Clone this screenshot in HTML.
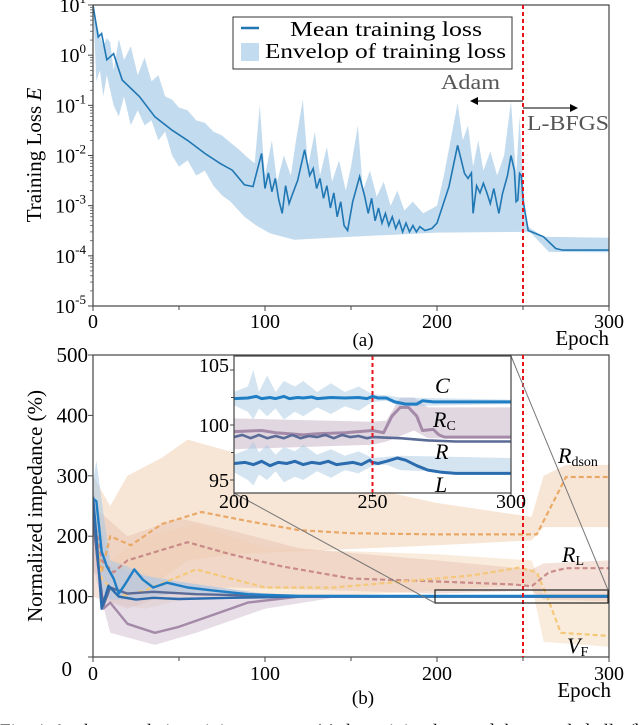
<!DOCTYPE html>
<html><head><meta charset="utf-8"><style>
html,body{margin:0;padding:0;background:#fff;}
svg{display:block;font-family:"Liberation Serif","DejaVu Serif",serif;}
</style></head><body>
<svg id="fig" width="640" height="725" viewBox="0 0 640 725" xmlns="http://www.w3.org/2000/svg">
<defs>
<clipPath id="clipA"><rect x="93" y="5" width="516" height="301"/></clipPath>
<clipPath id="clipB"><rect x="93" y="355" width="516" height="302"/></clipPath>
<clipPath id="clipI"><rect x="234" y="356" width="277" height="137"/></clipPath>
<marker id="arr" markerWidth="8" markerHeight="8" refX="7" refY="4" orient="auto"><path d="M0,0 L8,4 L0,8 z" fill="#000"/></marker>
</defs>
<g id="top"></g>
<g id="bot"></g>
<g id="inset"></g>
<text x="0" y="737" font-size="19">Fig. 4.   As the   sample in training process, (a) the training loss and the sample ballo (b)</text>
</svg>
<script>
// ---------- Panel (a) data ----------
const meanEpochs=[0,3,5,8,12,17,27,36,46,55,65,74,81,88,93,98,100,102,104,106,108,110,112,114,116,119,123,126,128,130,132,134,136,138,140,142,144,146,148,151,155,158,160,162,164,166,168,170,172,174,176,178,180,182,184,186,188,190,193,197,200,207,212,216,218,220,221,223,225,227,229,231,233,235,236,238,241,243,245,246,247,248,249,250,253,262,269,273,300];
const meanLoss=[10,2.3,2.7,0.81,1.07,0.32,0.15,0.059,0.032,0.02,0.011,0.0069,0.0051,0.0026,0.0024,0.011,0.0022,0.0045,0.0019,0.0035,0.0013,0.0007,0.0025,0.0011,0.0017,0.0032,0.013,0.004,0.0055,0.0022,0.0035,0.0014,0.0025,0.0009,0.0018,0.0006,0.0012,0.0004,0.00032,0.0012,0.0038,0.0015,0.0007,0.0014,0.0005,0.0009,0.00045,0.0007,0.0004,0.0006,0.00035,0.0005,0.0003,0.00045,0.0003,0.0004,0.0003,0.00038,0.00032,0.00035,0.00045,0.0024,0.016,0.0044,0.0035,0.0045,0.0007,0.0025,0.0018,0.0028,0.0018,0.0011,0.0022,0.001,0.0007,0.0017,0.004,0.01,0.005,0.0012,0.0013,0.0044,0.004,0.0013,0.00032,0.00024,0.00014,0.00013,0.00013];
const envUpEpochs=[0,3,6,8,10,12,15,18,22,26,30,34,38,42,46,50,55,60,65,70,75,80,85,90,94,97,99,100,104,107,111,115,118,122,125,129,132,136,139,143,147,150,154,157,161,165,169,173,177,181,186,192,200,204,212,215,218,221,224,227,231,235,239,243,246,248,250,252,262,300];
const envUp=[10,3.2,1.5,2.2,1.8,0.5,2.1,0.8,1.5,0.4,0.9,0.3,0.4,0.15,0.13,0.09,0.08,0.05,0.045,0.03,0.025,0.018,0.013,0.009,0.007,0.1,0.01,0.004,0.02,0.003,0.01,0.004,0.02,0.13,0.006,0.03,0.004,0.015,0.003,0.008,0.002,0.006,0.04,0.002,0.005,0.0015,0.003,0.001,0.002,0.0008,0.0012,0.0007,0.001,0.004,0.11,0.02,0.04,0.006,0.02,0.005,0.012,0.004,0.01,0.12,0.004,0.06,0.003,0.0004,0.00024,0.00023];
const envLoEpochs=[0,2,4,6,8,10,12,15,18,22,26,30,34,38,42,46,50,55,60,65,70,75,80,88,95,103,117,150,200,250,254,265,300];
const envLo=[10,0.3,0.5,0.15,0.4,0.2,0.1,0.06,0.15,0.04,0.08,0.04,0.05,0.02,0.03,0.01,0.006,0.008,0.004,0.005,0.0025,0.0016,0.0012,0.0006,0.0004,0.00028,0.00021,0.00024,0.00029,0.0003,0.0003,0.00012,0.000117];
const topYTicks=[1,0,-1,-2,-3,-4,-5];
const xTickLabels=[0,100,200,300];
const xTickMinor=[50,150,250];

// ---------- Panel (b) data ----------
const cE=[0,2,5,8,12,15,19,24,29,35,43,55,70,90,120,300];
const cV=[262,258,175,150,130,105,122,145,128,115,123,115,110,104,101,101];
const lE=[0,2,5,9,15,25,35,50,80,120,300];
const lV=[265,200,80,118,100,95,98,96,98,100,100];
const rE=[0,3,6,10,20,35,60,90,120,300];
const rV=[230,150,85,115,105,108,104,102,100,100];
const rcE=[0,3,6,10,20,36,50,70,90,120,300];
const rcV=[240,150,80,90,55,40,50,70,90,100,100];
const rdE=[0,5,10,22,40,63,90,120,150,200,258,275,300];
const rdV=[230,140,200,185,220,240,225,210,205,203,203,298,298];
const rlE=[0,5,12,20,55,80,110,150,200,245,255,265,275,300];
const rlV=[240,160,140,160,190,170,150,130,125,120,117,140,147,147];
const vfE=[0,5,15,30,60,80,100,140,180,220,248,258,264,272,300];
const vfV=[240,130,100,110,145,130,115,115,125,135,148,140,100,40,35];
const rdBandE=[0,10,20,40,55,80,120,160,200,255,262,275,300];
const rdBandUp=[300,250,300,330,360,340,310,280,255,232,300,318,318];
const rdBandLo=[140,120,100,130,160,170,175,180,185,193,215,215,215];
const rlBandE=[0,20,50,80,120,200,255,262,300];
const rlBandUp=[250,200,230,210,180,160,145,155,160];
const rlBandLo=[100,80,110,115,112,105,110,95,92];
const vfBandE=[0,10,30,60,100,200,255,262,300];
const vfBandUp=[250,160,200,220,180,170,160,105,105];
const vfBandLo=[200,90,80,100,95,110,120,25,17];
const rcBandE=[0,10,36,60,100,140,300];
const rcBandUp=[280,150,130,120,105,102,102];
const rcBandLo=[150,40,20,40,80,98,98];
const cBandE=[0,2,5,10,20,30,50,100,300];
const cBandUp=[290,325,260,160,150,135,125,104,101];
const cBandLo=[220,200,110,95,95,100,105,99,99];
const botYTicks=[0,100,200,300,400,500];

// ---------- Inset data ----------
const icE=[200,205,208,210,213,215,218,220,223,225,228,230,235,240,245,248,250,252,255,258,262,266,268,272,300];
const icV=[102.4,102.45,102.6,102.4,102.5,102.4,102.6,102.4,102.5,102.45,102.55,102.4,102.5,102.45,102.5,102.4,102.6,102.45,102.45,102.1,101.9,101.9,102.2,102.1,102.1];
const ircE=[200,210,215,220,225,230,240,245,250,254,257,260,263,266,268,272,274,276,300];
const ircV=[99.4,99.5,99.3,99.2,99.1,99.2,99.3,99.4,99.5,99.3,100.8,101.6,101.6,100.8,99.5,99.6,99.1,98.9,98.9];
const irE=[200,203,206,209,212,215,218,221,224,227,230,233,236,239,242,245,248,250,260,270,280,300];
const irV=[98.9,99.1,98.8,99.1,98.8,99.0,98.8,99.1,98.8,99.0,98.9,99.1,98.8,99.1,98.9,99.0,98.8,98.9,98.8,98.6,98.5,98.5];
const ilE=[200,204,207,210,213,216,219,222,225,228,231,234,237,240,243,246,249,250,252,255,259,262,266,270,275,280,300];
const ilV=[96.5,96.6,96.4,96.7,96.3,96.6,96.5,96.7,96.4,96.6,96.5,96.7,96.4,96.5,96.6,96.4,96.8,96.6,96.5,96.7,97.0,96.8,96.3,95.9,95.7,95.6,95.6];
const ibE=[200,205,207,209,212,215,218,222,225,230,235,240,245,250,255,260,300];
const icBandUp=[103,103.5,105,103,104.5,103,104,103.5,104,103,103.8,103,103.5,102.8,102.7,102.5,102.3];
const icBandLo=[101.8,101.2,100.5,101.5,100.8,101.5,100.5,101.2,100.8,101.6,101,101.7,101.3,102.1,102.2,101.7,101.9];
const ilBandUp=[97.3,97.8,98.5,97.5,98.2,97.3,98,97.6,98.2,97.3,97.8,97.2,97.6,97,97.1,97.2,97];
const ilBandLo=[95.7,95,94.5,95.5,95,95.8,94.8,95.3,95,95.8,95.2,95.9,95.6,96.3,96.4,95.9,95.5];
const ircBandE=[200,250,255,260,265,270,272,300];
const ircBandUp=[100.6,100.3,100.4,102.5,102.5,101.6,101.6,101.6];
const ircBandLo=[97.8,98.2,98.5,99,99.5,98.8,98.8,98.8];
const insetYTicks=[95,100,105];
const insetXTicks=[200,250,300];

const NS="http://www.w3.org/2000/svg";
function mk(tag,attrs,parent,txt){const e=document.createElementNS(NS,tag);for(const k in attrs)e.setAttribute(k,attrs[k]);if(txt!==undefined)e.textContent=txt;parent.appendChild(e);return e;}
function path(xs,ys,fx,fy){return xs.map((x,i)=>(i?'L':'M')+fx(x).toFixed(1)+','+fy(ys[i]).toFixed(1)).join('');}
function band(xu,yu,xl,yl,fx,fy){let d=path(xu,yu,fx,fy);for(let i=xl.length-1;i>=0;i--)d+='L'+fx(xl[i]).toFixed(1)+','+fy(yl[i]).toFixed(1);return d+'Z';}

// ===== Panel (a) =====
const A=document.getElementById('top');
const ax=e=>93+e*516/300;
const ay=v=>306-(Math.log10(v)+5)*301/6;
const ayl=p=>306-(p+5)*301/6;
const ga=mk('g',{'clip-path':'url(#clipA)'},A);
let el=mk('path',{d:band(envUpEpochs,envUp,envLoEpochs,envLo,ax,ay),fill:'#c3dbee'},ga);


el=mk('path',{d:path(meanEpochs,meanLoss,ax,ay),fill:'none',stroke:'#1f77b4','stroke-width':1.6},ga);


el=mk('rect',{x:93,y:5,width:516,height:301,fill:'none',stroke:'#444','stroke-width':1.2},A);


topYTicks.forEach(p=>{const y=ayl(p);
 mk('line',{x1:88,x2:93,y1:y,y2:y,stroke:'#444'},A);
 if(p>-5)for(let m=2;m<10;m++){const ym=ayl(p-1+Math.log10(m));mk('line',{x1:90,x2:93,y1:ym,y2:ym,stroke:'#444','stroke-width':0.7},A);}
 const t=mk('text',{x:86,y:y+7,'font-size':20,'text-anchor':'end'},A);
 
 
 t.textContent='10';mk('tspan',{dy:-9,'font-size':13},t,p<0?'-'+(-p):String(p));
});
xTickLabels.forEach(e=>{mk('line',{x1:ax(e),x2:ax(e),y1:306,y2:311,stroke:'#444'},A);
 const t=mk('text',{x:ax(e),y:328,'font-size':20,'text-anchor':'middle'},A,String(e));
 
 });
xTickMinor.forEach(e=>mk('line',{x1:ax(e),x2:ax(e),y1:306,y2:310,stroke:'#444'},A));
el=mk('text',{x:609,y:345,'font-size':21,'text-anchor':'end'},A,'Epoch');


el=mk('text',{x:363,y:346,'font-size':19,'text-anchor':'middle'},A,'(a)');


el=mk('text',{transform:'translate(41,155) rotate(-90)','font-size':21,'text-anchor':'middle'},A,'Training Loss ');


mk('tspan',{'font-style':'italic'},el,'E');
el=mk('line',{x1:ax(250),x2:ax(250),y1:5,y2:306,stroke:'#e8141c','stroke-width':2,'stroke-dasharray':'4,3'},A);


const lg=mk('g',{},A);


mk('rect',{x:233,y:17,width:279,height:52,fill:'#fff',stroke:'#333','stroke-width':1},lg);
mk('line',{x1:241,x2:259,y1:28,y2:28,stroke:'#1f77b4','stroke-width':2.5},lg);
mk('rect',{x:241,y:43,width:18,height:18,fill:'#c3dbee'},lg);
el=mk('text',{x:290,y:36,'font-size':21,textLength:192,lengthAdjust:'spacingAndGlyphs'},lg,'Mean training loss');


el=mk('text',{x:265,y:58,'font-size':21,textLength:241,lengthAdjust:'spacingAndGlyphs'},lg,'Envelop of training loss');


el=mk('text',{x:441,y:89,'font-size':21,fill:'#555',textLength:59,lengthAdjust:'spacingAndGlyphs'},A,'Adam');


mk('line',{x1:523,x2:471,y1:101,y2:101,stroke:'#000','stroke-width':1,'marker-end':'url(#arr)'},A);
mk('line',{x1:523,x2:577,y1:108,y2:108,stroke:'#000','stroke-width':1,'marker-end':'url(#arr)'},A);
el=mk('text',{x:527,y:130,'font-size':21,fill:'#555',textLength:82,lengthAdjust:'spacingAndGlyphs'},A,'L-BFGS');



// ===== Panel (b) =====
const B=document.getElementById('bot');
const bx=e=>93+e*516/300;
const by=v=>657-v*302/500;
const gb=mk('g',{'clip-path':'url(#clipB)'},B);
function addBand(g,xe,up,lo,fill,op,name,fx,fy){const p=mk('path',{d:band(xe,up,xe,lo,fx,fy),fill:fill,'fill-opacity':op},g);
 
 }
function addLine(g,xe,v,col,w,dash,name,fx,fy){const p=mk('path',{d:path(xe,v,fx,fy),fill:'none',stroke:col,'stroke-width':w,'stroke-dasharray':dash||'none','stroke-linejoin':'round'},g);
 
 }
addBand(gb,rdBandE,rdBandUp,rdBandLo,'#f2d6bb',0.6,'rdson-band',bx,by);
addBand(gb,vfBandE,vfBandUp,vfBandLo,'#f5dcc0',0.55,'vf-band',bx,by);
addBand(gb,rlBandE,rlBandUp,rlBandLo,'#e6bfae',0.45,'rl-band',bx,by);
addBand(gb,rcBandE,rcBandUp,rcBandLo,'#d6c6d6',0.6,'rc-band',bx,by);
addBand(gb,cBandE,cBandUp,cBandLo,'#a9c9e4',0.55,'c-band',bx,by);
addLine(gb,rdE,rdV,'#e9a866',2.2,'5,3','rdson-line',bx,by);
addLine(gb,rlE,rlV,'#c98a88',2.2,'5,3','rl-line',bx,by);
addLine(gb,vfE,vfV,'#f4c878',2.2,'5,3','vf-line',bx,by);
addLine(gb,rcE,rcV,'#a48aa8',2.4,null,'rc-line',bx,by);
addLine(gb,rE,rV,'#5b6b98',2.4,null,'r-line',bx,by);
addLine(gb,lE,lV,'#2a6cae',2.4,null,'l-line',bx,by);
addLine(gb,cE,cV,'#1f7ec4',2.4,null,'c-line',bx,by);
el=mk('rect',{x:93,y:355,width:516,height:302,fill:'none',stroke:'#444','stroke-width':1.2},B);


botYTicks.forEach(v=>{const y=by(v);mk('line',{x1:88,x2:93,y1:y,y2:y,stroke:'#444'},B);
 const t=mk('text',{x:v===0?72:88,y:v===0?676:y+7,'font-size':21,'text-anchor':'end'},B,String(v));
 
 });
xTickLabels.forEach(e=>{mk('line',{x1:bx(e),x2:bx(e),y1:657,y2:662,stroke:'#444'},B);
 const t=mk('text',{x:bx(e),y:680,'font-size':20,'text-anchor':'middle'},B,String(e));
 
 });
xTickMinor.forEach(e=>mk('line',{x1:bx(e),x2:bx(e),y1:657,y2:661,stroke:'#444'},B));
el=mk('text',{x:611,y:697,'font-size':21,'text-anchor':'end'},B,'Epoch');


el=mk('text',{x:363,y:704,'font-size':19,'text-anchor':'middle'},B,'(b)');


el=mk('text',{transform:'translate(42,506) rotate(-90)','font-size':21,'text-anchor':'middle'},B,'Normalized impedance (%)');


el=mk('line',{x1:bx(250),x2:bx(250),y1:355,y2:657,stroke:'#e8141c','stroke-width':2,'stroke-dasharray':'4,3'},B);


el=mk('rect',{x:435,y:590,width:173,height:13,fill:'none',stroke:'#222','stroke-width':1.2},B);


mk('line',{x1:234,y1:493,x2:435,y2:603,stroke:'#777','stroke-width':1},B);
mk('line',{x1:511,y1:356,x2:608,y2:590,stroke:'#777','stroke-width':1},B);
function lab(g,x,y,main,sub,name){const t=mk('text',{x:x,y:y,'font-size':22,'font-style':'italic'},g,main);
 
 
 if(sub)mk('tspan',{'font-size':14,'font-style':'normal',dy:3},t,sub);}
lab(B,558,463,'R','dson','rdson-label');
lab(B,562,562,'R','L','rl-label');
lab(B,567,653,'V','F','vf-label');

// ===== Inset =====
const I=document.getElementById('inset');
const ix=e=>234+(e-200)*277/100;
const iy=v=>480-(v-95)*11;
mk('rect',{x:234,y:356,width:277,height:137,fill:'#fff'},I);
const gi=mk('g',{'clip-path':'url(#clipI)'},I);
addBand(gi,ircBandE,ircBandUp,ircBandLo,'#cdbccd',0.6,'inset-rc-band',ix,iy);
addBand(gi,ibE,icBandUp,icBandLo,'#a9c9e4',0.5,'inset-c-band',ix,iy);
addBand(gi,ibE,ilBandUp,ilBandLo,'#a9c9e4',0.5,'inset-l-band',ix,iy);
addLine(gi,ircE,ircV,'#a48aa8',3,null,'inset-rc-line',ix,iy);
addLine(gi,irE,irV,'#5b6b98',2.6,null,'inset-r-line',ix,iy);
addLine(gi,icE,icV,'#1f7ec4',3,null,'inset-c-line',ix,iy);
addLine(gi,ilE,ilV,'#2a6cae',3,null,'inset-l-line',ix,iy);
el=mk('line',{x1:ix(250),x2:ix(250),y1:356,y2:493,stroke:'#e8141c','stroke-width':2,'stroke-dasharray':'4,3'},I);


el=mk('rect',{x:234,y:356,width:277,height:137,fill:'none',stroke:'#444','stroke-width':1.2},I);


insetYTicks.forEach(v=>{const y=iy(v);mk('line',{x1:230,x2:234,y1:y,y2:y,stroke:'#444'},I);
 const t=mk('text',{x:229,y:v===105?y+2:y+7,'font-size':20,'text-anchor':'end'},I,String(v));
 
 });
[97.5,102.5].forEach(v=>mk('line',{x1:231,x2:234,y1:iy(v),y2:iy(v),stroke:'#444'},I));
insetXTicks.forEach(e=>{mk('line',{x1:ix(e),x2:ix(e),y1:493,y2:497,stroke:'#444'},I);
 const t=mk('text',{x:ix(e),y:508,'font-size':20,'text-anchor':'middle'},I,String(e));
 
 });
lab(I,435,393,'C',null,'inset-c-label');
lab(I,433,427,'R','C','inset-rc-label');
lab(I,435,459,'R',null,'inset-r-label');
lab(I,435,492,'L',null,'inset-l-label');
</script>
</body></html>
